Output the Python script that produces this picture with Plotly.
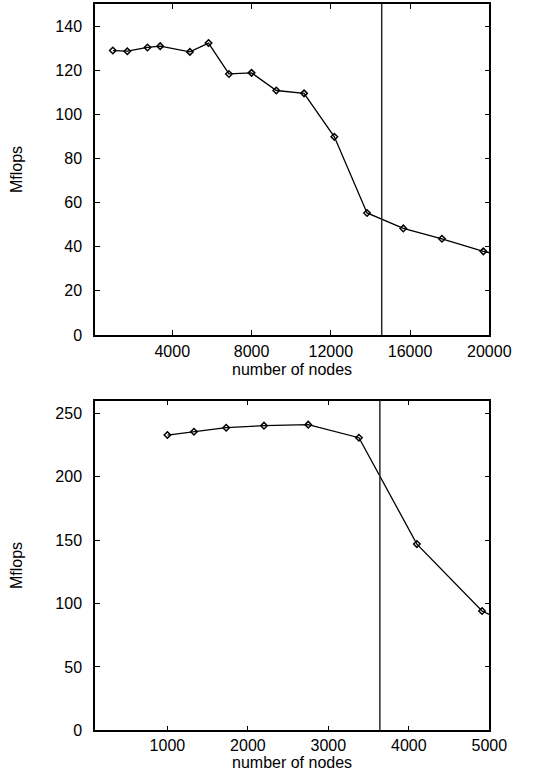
import plotly.graph_objects as go

# Upper panel: larger meshes
nodes_large = [1000, 1730, 2750, 3390, 4890, 5830, 6860, 8000, 9250, 10650,
               12180, 13830, 15660, 17610, 19700, 21500]
mflops_large = [128.9, 128.6, 130.3, 130.9, 128.3, 132.3, 118.3, 118.8, 110.8,
                109.5, 89.8, 55.3, 48.3, 43.6, 37.9, 34.5]
limit_large = 14570
xticks_large = [4000, 8000, 12000, 16000, 20000]
yticks_large = [0, 20, 40, 60, 80, 100, 120, 140]

# Lower panel: smaller meshes
nodes_small = [1000, 1330, 1730, 2200, 2750, 3380, 4100, 4910, 5200]
mflops_small = [232.9, 235.5, 238.7, 240.3, 241.1, 230.8, 146.9, 94.1, 85.5]
limit_small = 3640
xticks_small = [1000, 2000, 3000, 4000, 5000]
yticks_small = [0, 50, 100, 150, 200, 250]

W, H = 555, 772
FONT = "Liberation Sans, Arial, sans-serif"
FS = 16

fig = go.Figure()

line_style = dict(color="black", width=1.3)
marker_style = dict(symbol="diamond-open", size=5, color="black",
                    line=dict(color="black", width=1.5))

fig.add_trace(go.Scatter(x=nodes_large, y=mflops_large, mode="lines+markers",
                         line=line_style, marker=marker_style,
                         xaxis="x", yaxis="y", showlegend=False,
                         cliponaxis=True))
fig.add_trace(go.Scatter(x=nodes_small, y=mflops_small, mode="lines+markers",
                         line=line_style, marker=marker_style,
                         xaxis="x2", yaxis="y2", showlegend=False,
                         cliponaxis=True))

LEFT, RIGHT = 95, 489.3
TOP_Y0, TOP_Y1 = 4, 335
BOT_Y0, BOT_Y1 = 400.7, 730.3

x_dom = [LEFT / W, RIGHT / W]
top_dom = [1 - TOP_Y1 / H, 1 - TOP_Y0 / H]
bot_dom = [1 - BOT_Y1 / H, 1 - BOT_Y0 / H]

axis_common = dict(
    showline=True, linecolor="black", linewidth=1.5, mirror="ticks",
    ticks="inside", ticklen=5, tickwidth=1, tickcolor="black",
    showgrid=False, zeroline=False, automargin=False,
    tickfont=dict(family=FONT, size=FS, color="black"),
)


def ytitle():
    return dict(text="Mflops", standoff=29,
                font=dict(family=FONT, size=FS, color="black"))


fig.update_layout(
    width=W, height=H,
    margin=dict(l=0, r=0, t=0, b=0, autoexpand=False),
    paper_bgcolor="white", plot_bgcolor="white",
    font=dict(family=FONT, color="black"),
    xaxis=dict(domain=x_dom, anchor="y", range=[100, 20000],
               tickvals=xticks_large, ticktext=[str(v) for v in xticks_large],
               ticklabelstandoff=1, **axis_common),
    yaxis=dict(domain=top_dom, anchor="x", range=[0, 150],
               tickvals=yticks_large, ticktext=[str(v) for v in yticks_large],
               ticklabelstandoff=8, title=ytitle(), **axis_common),
    xaxis2=dict(domain=x_dom, anchor="y2", range=[100, 5000],
                tickvals=xticks_small, ticktext=[str(v) for v in xticks_small],
                ticklabelstandoff=0, **axis_common),
    yaxis2=dict(domain=bot_dom, anchor="x2", range=[0, 260],
                tickvals=yticks_small, ticktext=[str(v) for v in yticks_small],
                ticklabelstandoff=8, title=ytitle(), **axis_common),
)

# x-axis titles sit just under the tick labels
for axis_bottom, gap in ((TOP_Y1, 24.5), (BOT_Y1, 22.5)):
    fig.add_annotation(text="number of nodes", xref="paper", yref="paper",
                       x=(LEFT + RIGHT) / 2 / W,
                       y=1 - (axis_bottom + gap) / H,
                       xanchor="center", yanchor="top", showarrow=False,
                       borderpad=0,
                       font=dict(family=FONT, size=FS, color="black"))

# Vertical markers for the memory limit in each panel
fig.add_shape(type="line", xref="x", yref="y domain", x0=limit_large,
              x1=limit_large, y0=0, y1=1,
              line=dict(color="#2a2a2a", width=1.5))
fig.add_shape(type="line", xref="x2", yref="y2 domain", x0=limit_small,
              x1=limit_small, y0=0, y1=1,
              line=dict(color="#2a2a2a", width=1.5))

fig.write_html("out.html")
